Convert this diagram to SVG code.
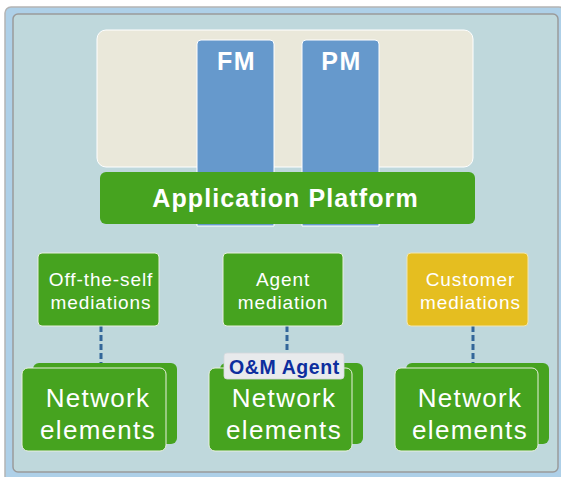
<svg xmlns="http://www.w3.org/2000/svg" width="561" height="477" viewBox="0 0 561 477">
<style>
.g{fill:#46A31F}
.ge{fill:#46A31F;stroke:#E8F0E0;stroke-width:1}
.col{fill:#6699CC;stroke:#FFFFFF;stroke-width:1}
.wt{fill:#FFFFFF;font-family:"Liberation Sans",Arial,sans-serif;text-anchor:middle}
.b{font-weight:bold}
.med{font-size:19px;letter-spacing:0.9px}
.ne{font-size:26px;letter-spacing:1.3px}
.dash{stroke:#336699;stroke-width:3;stroke-dasharray:6,3;fill:none}
</style>
<rect x="0" y="0" width="561" height="477" fill="#FFFFFF"/>
<rect x="5" y="7" width="560" height="475" rx="6" fill="#AED0E8" stroke="#B4B4B4" stroke-width="1.5"/>
<rect x="13" y="14" width="545" height="458" rx="5" fill="#BFD8DC" stroke="#9A9A9A" stroke-width="1.5"/>
<g id="platform-area">
<rect x="97" y="30" width="376" height="137" rx="9" fill="#EAE8DA" stroke="#FFFFFF" stroke-width="1"/>
</g>
<g id="fm">
<path class="col" d="M197,226 V44 a4,4 0 0 1 4,-4 H270 a4,4 0 0 1 4,4 V226 Z"/>
<text class="wt b" x="236.500" y="70" font-size="25" letter-spacing="1.5">FM</text>
</g>
<g id="pm">
<path class="col" d="M302,226 V44 a4,4 0 0 1 4,-4 H375 a4,4 0 0 1 4,4 V226 Z"/>
<text class="wt b" x="341.500" y="70" font-size="25" letter-spacing="1.5">PM</text>
</g>
<g id="application-platform">
<rect class="g" x="100" y="172" width="375" height="52" rx="6"/>
<text class="wt b" x="285.500" y="207" font-size="25" letter-spacing="1.1">Application Platform</text>
</g>
<g id="connectors">
<line class="dash" x1="101" y1="326" x2="101" y2="367"/>
<line class="dash" x1="287" y1="326" x2="287" y2="354"/>
<line class="dash" x1="473" y1="326" x2="473" y2="367"/>
</g>
<g id="off-the-self-mediations">
<rect class="ge" x="38" y="253" width="121" height="73" rx="4"/>
<text class="wt med" x="101" y="286">Off-the-self</text>
<text class="wt med" x="101" y="309">mediations</text>
</g>
<g id="agent-mediation">
<rect class="ge" x="223" y="253" width="120" height="73" rx="4"/>
<text class="wt med" x="283" y="286">Agent</text>
<text class="wt med" x="283" y="309">mediation</text>
</g>
<g id="customer-mediations">
<rect x="407" y="253" width="121" height="73" rx="4" fill="#E5BE20" stroke="#F2E6B0" stroke-width="1"/>
<text class="wt med" x="470.500" y="286">Customer</text>
<text class="wt med" x="470.500" y="309">mediations</text>
</g>
<g id="network-elements-1">
<rect class="g" x="33" y="363" width="144" height="81" rx="6"/>
<rect class="ge" x="22" y="368" width="144" height="83" rx="6"/>
<text class="wt ne" x="98" y="407">Network</text>
<text class="wt ne" x="98" y="439">elements</text>
</g>
<g id="network-elements-2">
<rect class="g" x="220" y="363" width="143" height="81" rx="6"/>
<rect class="ge" x="209" y="368" width="143" height="83" rx="6"/>
<text class="wt ne" x="284" y="407">Network</text>
<text class="wt ne" x="284" y="439">elements</text>
</g>
<g id="om-agent">
<rect x="224" y="353" width="120" height="26" rx="3" fill="#E8EAEC" stroke="#D4D8DC" stroke-width="0.8"/>
<text x="284.500" y="374" font-size="19.500" font-weight="bold" letter-spacing="0.6" fill="#0D2E9E" font-family="Liberation Sans,Arial,sans-serif" text-anchor="middle">O&amp;M Agent</text>
</g>
<g id="network-elements-3">
<rect class="g" x="406" y="363" width="143" height="81" rx="6"/>
<rect class="ge" x="395" y="368" width="143" height="83" rx="6"/>
<text class="wt ne" x="470" y="407">Network</text>
<text class="wt ne" x="470" y="439">elements</text>
</g>
</svg>
